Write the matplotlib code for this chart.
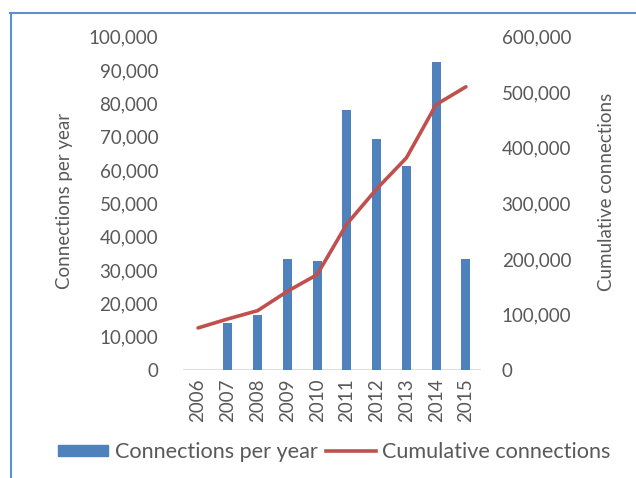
import matplotlib.pyplot as plt
import numpy as np
from matplotlib.lines import Line2D
from matplotlib.ticker import FuncFormatter

plt.rcParams["font.family"] = ["Lato", "DejaVu Sans"]

years = ["2006", "2007", "2008", "2009", "2010", "2011", "2012", "2013", "2014", "2015"]
per_year = [0, 14000, 16600, 33400, 32800, 78100, 69300, 61300, 92300, 33400]
cumulative = [75700, 91900, 106800, 141600, 171700, 263000, 326000, 382000, 478000, 510000]

grey = "#595959"
blue = "#4F81BD"
red = "#C0504D"

fig = plt.figure(figsize=(6.36, 4.78), dpi=100)
ax = fig.add_axes([0.288, 0.226, 0.468, 0.697])
ax2 = ax.twinx()

x = np.arange(len(years))
ax.bar(x, per_year, width=0.3, color=blue, zorder=2)
ax2.plot(x, cumulative, color=red, lw=2.6, solid_capstyle="round", zorder=3)

ax.set_xlim(-0.5, len(years) - 0.5)
ax.set_ylim(0, 100000)
ax2.set_ylim(0, 600000)
ax.set_yticks(np.arange(0, 100001, 10000))
ax2.set_yticks(np.arange(0, 600001, 100000))
fmt = FuncFormatter(lambda v, p: f"{int(v):,}")
ax.yaxis.set_major_formatter(fmt)
ax2.yaxis.set_major_formatter(fmt)
ax.set_xticks(x)
ax.set_xticklabels(years, rotation=90)

for a in (ax, ax2):
    for s in a.spines.values():
        s.set_visible(False)
    a.tick_params(length=0, colors=grey, labelsize=13.5)
ax.tick_params(axis="y", pad=18)
ax2.tick_params(axis="y", pad=15)
ax.tick_params(axis="x", pad=6)
ax.axhline(0, color="#D9D9D9", lw=1.2, zorder=1)

ax.set_ylabel("Connections per year", color=grey, fontsize=13.5)
ax2.set_ylabel("Cumulative connections", color=grey, fontsize=13.5)
ax.yaxis.set_label_coords(-0.37, 0.507)
ax2.yaxis.set_label_coords(1.395, 0.535)

handles = [
    plt.Rectangle((0, 0), 1, 1, color=blue),
    Line2D([0], [0], color=red, lw=2.6),
]
fig.legend(handles, ["Connections per year", "Cumulative connections"],
           loc="center", bbox_to_anchor=(0.526, 0.054), ncol=2, frameon=False,
           fontsize=15.6, labelcolor=grey, handlelength=2.3, handleheight=0.45,
           columnspacing=0.4, handletextpad=0.3, borderpad=0)

frame = "#5B8FD0"
fig.add_artist(Line2D([0.016, 1.0], [0.973, 0.973], color=frame, lw=1.5,
                      transform=fig.transFigure))
fig.add_artist(Line2D([0.017, 0.017], [0.0, 0.973], color=frame, lw=1.5,
                      transform=fig.transFigure))

fig.savefig("out.png", dpi=100)
